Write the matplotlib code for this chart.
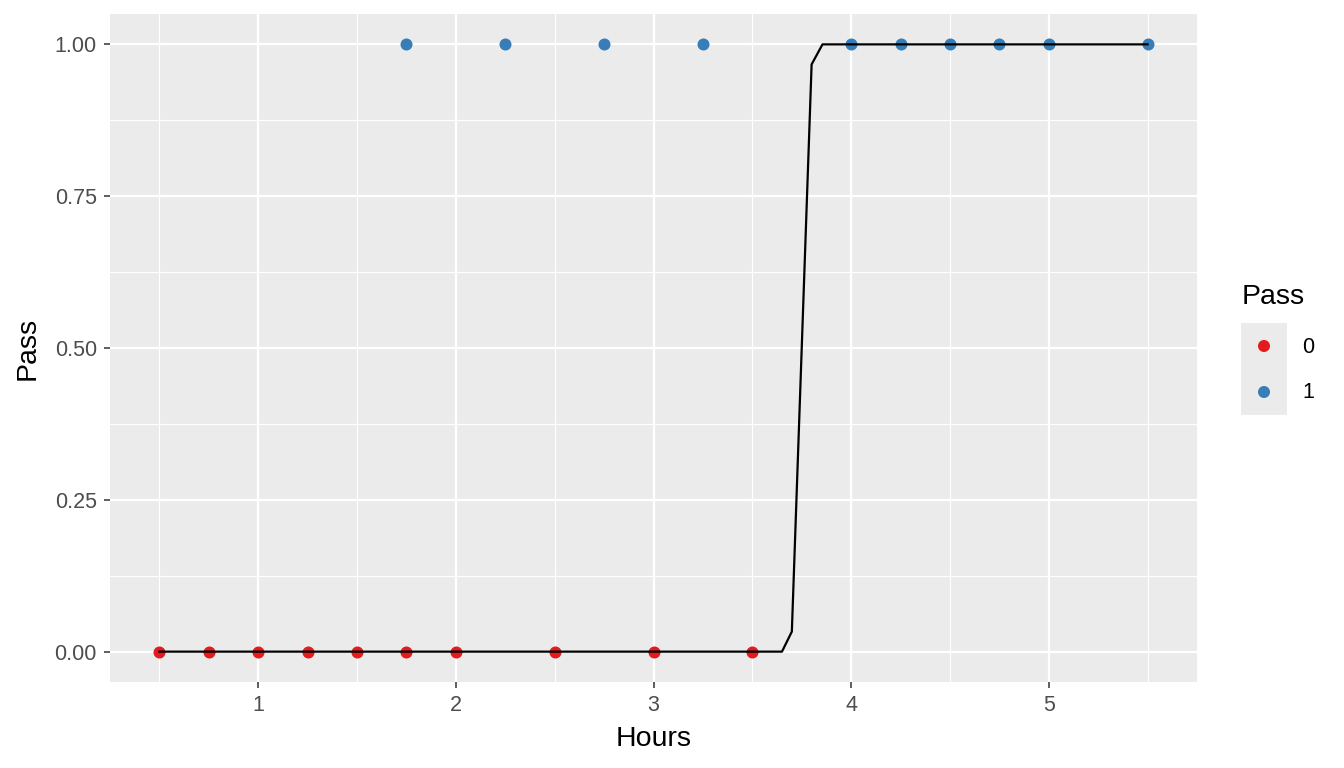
import matplotlib
matplotlib.use("Agg")
import matplotlib.pyplot as plt

plt.rcParams["font.family"] = ["Liberation Sans", "DejaVu Sans"]

# observed data
hours_fail = [0.5, 0.75, 1.0, 1.25, 1.5, 1.75, 2.0, 2.5, 3.0, 3.5]
hours_pass = [1.75, 2.25, 2.75, 3.25, 4.0, 4.25, 4.5, 4.75, 5.0, 5.5]

# fitted curve vertices
curve_x = [0.5, 3.65, 3.70, 3.80, 3.855, 5.5]
curve_y = [0.0, 0.0, 0.033, 0.967, 1.0, 1.0]

yticks = [0.0, 0.25, 0.5, 0.75, 1.0]
xticks = [1, 2, 3, 4, 5]

red = "#E41A1C"
blue = "#377EB8"
bg = "#EBEBEB"

fig = plt.figure(figsize=(13.44, 7.68), dpi=100)
ax = fig.add_axes([110 / 1344, 1 - 682 / 768, 1087 / 1344, 668 / 768])
ax.set_facecolor(bg)

ax.set_xlim(0.25, 5.75)
ax.set_ylim(-0.05, 1.05)

# grid
for v in [0.5, 1.5, 2.5, 3.5, 4.5, 5.5]:
    ax.axvline(v, color="white", lw=0.8, zorder=0)
for v in [0.125, 0.375, 0.625, 0.875]:
    ax.axhline(v, color="white", lw=0.8, zorder=0)
for v in xticks:
    ax.axvline(v, color="white", lw=1.6, zorder=0)
for v in yticks:
    ax.axhline(v, color="white", lw=1.6, zorder=0)

ax.scatter(hours_fail, [0] * len(hours_fail), s=75, color=red, zorder=3, linewidths=0)
ax.scatter(hours_pass, [1] * len(hours_pass), s=75, color=blue, zorder=3, linewidths=0)
ax.plot(curve_x, curve_y, color="black", lw=1.6, zorder=4)

for s in ax.spines.values():
    s.set_visible(False)
ax.set_xticks(xticks)
ax.set_xticklabels([str(v) for v in xticks])
ax.set_yticks(yticks)
ax.set_yticklabels([f"{v:.2f}" for v in yticks])
ax.tick_params(axis="both", colors="#333333", labelcolor="#4D4D4D", labelsize=15.5,
               length=4, width=1.1, pad=5.5)
ax.set_xlabel("Hours", fontsize=20.5, labelpad=7)
ax.set_ylabel("Pass", fontsize=20.5, labelpad=10)

# legend
fig.text(1242 / 1344, 1 - 297 / 768, "Pass", fontsize=20.5, ha="left", va="center")
kax = fig.add_axes([1241 / 1344, 1 - 415 / 768, 46 / 1344, 92 / 768])
kax.set_facecolor(bg)
kax.set_xlim(0, 1)
kax.set_ylim(0, 2)
kax.scatter([0.5, 0.5], [1.5, 0.5], s=75, color=[red, blue], linewidths=0)
kax.set_xticks([])
kax.set_yticks([])
for s in kax.spines.values():
    s.set_visible(False)
fig.text(1302 / 1344, 1 - 347 / 768, "0", fontsize=15.5, ha="left", va="center")
fig.text(1302 / 1344, 1 - 393 / 768, "1", fontsize=15.5, ha="left", va="center")

fig.savefig("out.png", dpi=100)
